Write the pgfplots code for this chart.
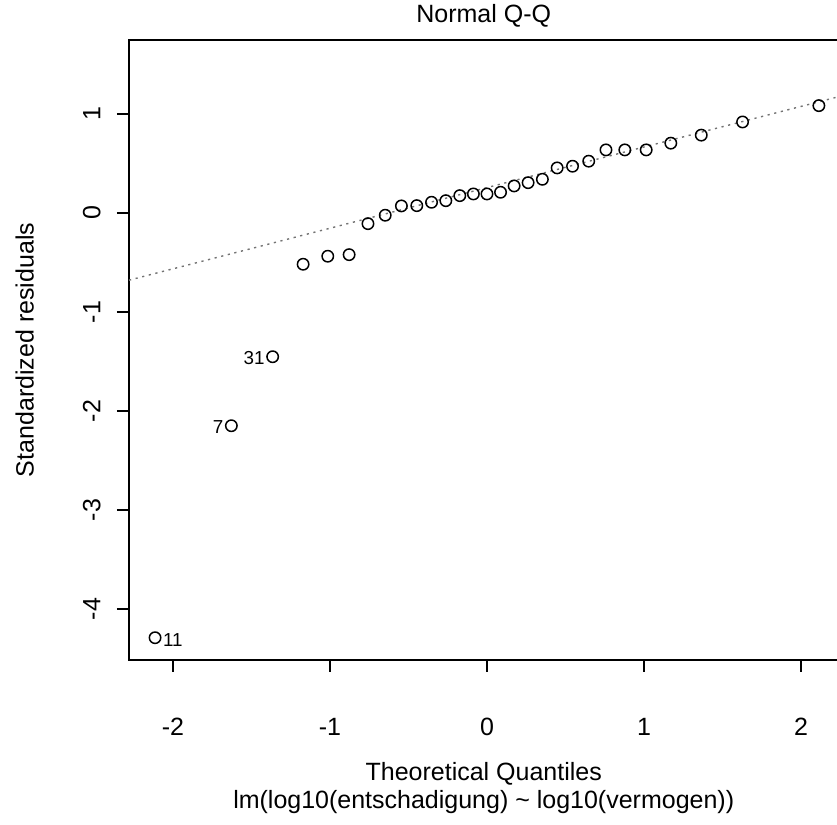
\documentclass[border=0pt]{standalone}
\usepackage{fontspec}
\setmainfont{Liberation Sans}
\usepackage{pgfplots}
\pgfplotsset{compat=1.18}
\begin{document}
\fontsize{12.5}{15}\selectfont
\begin{tikzpicture}
\begin{axis}[
  at={(64.5pt,82.5pt)}, anchor=south west,
  scale only axis, width=354.75pt, height=310pt,
  xmin=-2.280, xmax=2.239, ymin=-4.515, ymax=1.747,
  axis line style={line width=0.7pt, black},
  xtick={-2,-1,0,1,2}, xticklabels={-2,-1,0,1,2},
  ytick={-4,-3,-2,-1,0,1}, yticklabels={-4,-3,-2,-1,0,1},
  xtick pos=left, ytick pos=left,
  tick align=outside, major tick length=6pt,
  tick style={line width=0.7pt, black},
  xticklabel style={anchor=base, inner sep=0pt, yshift=-31.75pt},
  yticklabel style={xshift=-8.25pt, rotate=90, anchor=base, inner sep=0pt},
  xlabel={Theoretical Quantiles},
  xlabel style={at={(axis description cs:0.5,0)}, anchor=base, inner sep=0pt, yshift=-60.25pt},
  ylabel={Standardized residuals},
  ylabel style={at={(axis description cs:-0.1346,0.5)}, anchor=base, inner sep=0pt},
  extra description/.code={
    \node[anchor=base, inner sep=0pt] at (0.5,1) [yshift=8.5pt] {Normal Q-Q};
    \node[anchor=base, inner sep=0pt] at (0.5,0) [yshift=-74.5pt] {lm(log10(entschadigung) \~{} log10(vermogen))};
  },
]
\addplot[color=black!55, line width=0.7pt, dash pattern=on 1.1pt off 2.3pt] coordinates {(-2.28,-0.679) (2.239,1.174)};
\addplot[only marks, mark=o, mark size=2.85pt, mark options={line width=0.75pt, black}] coordinates {
(-2.114,-4.29) (-1.628,-2.149) (-1.365,-1.452) (-1.171,-0.518) (-1.014,-0.437) (-0.878,-0.421)
(-0.758,-0.108) (-0.648,-0.023) (-0.545,0.071) (-0.447,0.074) (-0.353,0.108) (-0.262,0.124)
(-0.173,0.175) (-0.0865,0.192) (0,0.192) (0.0865,0.209) (0.173,0.273) (0.262,0.306)
(0.353,0.340) (0.447,0.455) (0.545,0.472) (0.648,0.523) (0.758,0.637) (0.878,0.637)
(1.014,0.637) (1.171,0.705) (1.365,0.786) (1.628,0.919) (2.114,1.084)
};
\node[anchor=west, inner sep=0pt, font=\fontsize{9.4}{11}\selectfont, xshift=3.8pt, yshift=-1pt] at (axis cs:-2.114,-4.29) {11};
\node[anchor=east, inner sep=0pt, font=\fontsize{9.4}{11}\selectfont, xshift=-3.8pt, yshift=-0.5pt] at (axis cs:-1.628,-2.149) {7};
\node[anchor=east, inner sep=0pt, font=\fontsize{9.4}{11}\selectfont, xshift=-3.8pt, yshift=-0.5pt] at (axis cs:-1.365,-1.452) {31};
\end{axis}
\pgfresetboundingbox
\useasboundingbox (0,0) rectangle (418.5pt,412.5pt);
\end{tikzpicture}
\end{document}
